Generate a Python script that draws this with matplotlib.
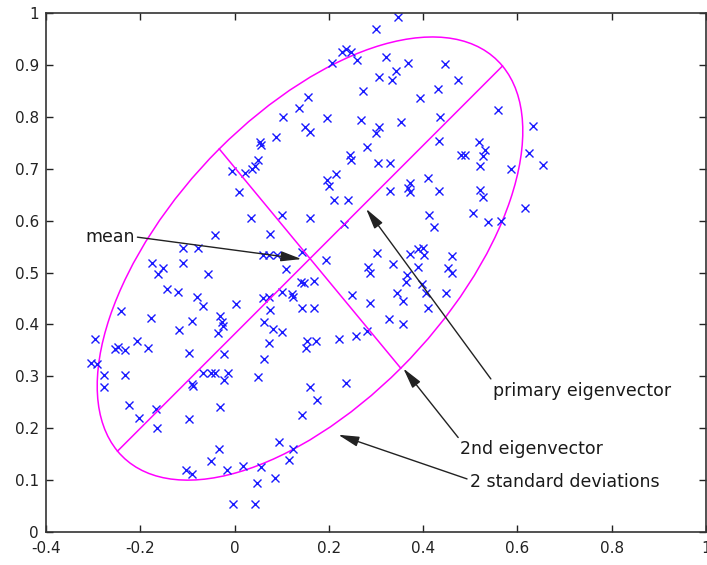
import numpy as np
import matplotlib
matplotlib.use("Agg")
import matplotlib.pyplot as plt
from matplotlib.patches import Ellipse

# scatter sample
xs = [-0.006,
      0.346, 0.299, 0.227, 0.236, 0.248, 0.260, 0.206, 0.322, 0.307, 0.333,
      0.342, 0.272, 0.156, 0.137, 0.102, 0.197, 0.269, 0.149, 0.160, 0.307,
      0.300, 0.088, 0.054, 0.057, 0.280, 0.245, 0.246, 0.050, 0.043, 0.036,
      0.022, 0.305, 0.329, 0.195, 0.215, 0.353,
      0.368, 0.446, 0.474, 0.432, 0.393, 0.435, 0.559, 0.632, 0.434, 0.519,
      0.531, 0.481, 0.488, 0.527, 0.625, 0.654, 0.520, 0.587, 0.411, 0.372,
      0.009, -0.042, -0.110, -0.077, -0.109, -0.176, -0.152, -0.162, -0.057, -0.144,
      -0.119, -0.080, -0.066, 0.004, -0.241, -0.178, -0.091, -0.117, -0.031, -0.027,
      -0.025, -0.035, -0.296, -0.247, -0.254, -0.232, -0.208, -0.183, -0.096, -0.022,
      0.201, 0.211, 0.241, 0.329, 0.034, 0.100, 0.161, 0.232, 0.075, 0.061,
      0.074, 0.089, 0.142, 0.194, 0.303, 0.335, 0.283, 0.287, 0.109, 0.141,
      0.147, 0.168, 0.100, 0.121, 0.124, 0.061, 0.074, 0.250, 0.344, 0.075,
      0.142, 0.168, 0.287, 0.328, 0.062, 0.082, 0.100, 0.280, 0.257, 0.222,
      0.074, 0.153, 0.173, 0.151, 0.063,
      0.368, 0.372, 0.434, 0.520, 0.527, 0.616, 0.413, 0.506, 0.538, 0.566,
      0.423, 0.372, 0.389, 0.400, 0.402, 0.462, 0.389, 0.453, 0.462, 0.365,
      0.363, 0.397, 0.407, 0.448, 0.358, 0.411, 0.358,
      -0.305, -0.292, -0.278, -0.278, -0.232, -0.225, -0.202, -0.167, -0.165, -0.096,
      -0.091, -0.088, -0.066, -0.049, -0.042, -0.013, -0.022, -0.031, -0.032, -0.049,
      -0.017, -0.102, -0.091, -0.004,
      0.050, 0.160, 0.175, 0.236, 0.142, 0.095, 0.123, 0.116, 0.018, 0.057,
      0.086, 0.048, 0.043]
ys = [0.696,
      0.994, 0.969, 0.926, 0.931, 0.926, 0.911, 0.905, 0.916, 0.878, 0.871,
      0.889, 0.851, 0.838, 0.817, 0.801, 0.798, 0.794, 0.781, 0.772, 0.780,
      0.770, 0.761, 0.751, 0.746, 0.743, 0.727, 0.718, 0.718, 0.706, 0.699,
      0.693, 0.711, 0.711, 0.679, 0.690, 0.791,
      0.905, 0.902, 0.872, 0.855, 0.837, 0.801, 0.814, 0.783, 0.754, 0.751,
      0.736, 0.727, 0.727, 0.724, 0.730, 0.708, 0.706, 0.699, 0.682, 0.673,
      0.655, 0.572, 0.547, 0.548, 0.518, 0.518, 0.509, 0.497, 0.497, 0.468,
      0.463, 0.453, 0.436, 0.439, 0.426, 0.412, 0.407, 0.389, 0.417, 0.405,
      0.396, 0.383, 0.372, 0.357, 0.352, 0.351, 0.368, 0.355, 0.344, 0.342,
      0.667, 0.640, 0.640, 0.657, 0.605, 0.612, 0.605, 0.593, 0.574, 0.533,
      0.533, 0.533, 0.540, 0.524, 0.538, 0.516, 0.511, 0.499, 0.506, 0.482,
      0.479, 0.484, 0.463, 0.458, 0.453, 0.450, 0.453, 0.457, 0.460, 0.428,
      0.432, 0.432, 0.441, 0.410, 0.404, 0.391, 0.385, 0.387, 0.378, 0.372,
      0.365, 0.367, 0.368, 0.354, 0.333,
      0.663, 0.655, 0.657, 0.659, 0.646, 0.625, 0.612, 0.614, 0.598, 0.599,
      0.587, 0.535, 0.545, 0.548, 0.534, 0.531, 0.511, 0.508, 0.500, 0.495,
      0.482, 0.477, 0.460, 0.460, 0.445, 0.431, 0.400,
      0.325, 0.324, 0.302, 0.280, 0.302, 0.244, 0.220, 0.236, 0.201, 0.217,
      0.285, 0.281, 0.306, 0.306, 0.306, 0.307, 0.293, 0.241, 0.159, 0.137,
      0.120, 0.119, 0.111, 0.053,
      0.299, 0.280, 0.255, 0.287, 0.225, 0.174, 0.159, 0.138, 0.127, 0.125,
      0.103, 0.093, 0.053]

# fitted gaussian (mean, principal direction, std along each eigenvector)
mean = [0.160, 0.527]
angle_deg = 42.3
stds = [0.276, 0.143]
n_std = 2

# annotations: label, text anchor, arrow tip, arrow start on text box
labels = ["mean", "primary eigenvector", "2nd eigenvector", "2 standard deviations"]
text_pos = [(-0.317, 0.569), (0.548, 0.272), (0.479, 0.159), (0.499, 0.0965)]
tip_pos = [(0.142, 0.526), (0.279, 0.623), (0.358, 0.315), (0.220, 0.187)]
relpos = [(1.0, 0.5), (0.0, 1.0), (0.0, 1.0), (0.0, 0.6)]

xticks = [-0.4, -0.2, 0, 0.2, 0.4, 0.6, 0.8, 1]
yticks = [0, 0.1, 0.2, 0.3, 0.4, 0.5, 0.6, 0.7, 0.8, 0.9, 1]

plt.rcParams["font.family"] = ["DejaVu Sans"]

fig = plt.figure(figsize=(7.07, 5.65), dpi=100)
ax = fig.add_axes([46 / 707, 1 - 531.7 / 565, 660 / 707, 518.3 / 565])

ax.plot(xs, ys, "x", color="#1a1aff", markersize=5.5, mew=1.0, clip_on=False)

th = np.deg2rad(angle_deg)
v1 = np.array([np.cos(th), np.sin(th)])
v2 = np.array([-np.sin(th), np.cos(th)])
m = np.array(mean)
magenta = "#ff00ff"
for v, s in [(v1, stds[0]), (v2, stds[1])]:
    a = m - n_std * s * v
    b = m + n_std * s * v
    ax.plot([a[0], b[0]], [a[1], b[1]], color=magenta, lw=1.1)
ax.add_patch(Ellipse(mean, 2 * n_std * stds[0], 2 * n_std * stds[1], angle=angle_deg,
                     fill=False, edgecolor=magenta, lw=1.1))

for lab, tp, xy, rp in zip(labels, text_pos, tip_pos, relpos):
    ax.annotate(lab, xy=xy, xytext=tp, ha="left", va="center", fontsize=12.5,
                color="#1a1a1a",
                arrowprops=dict(arrowstyle="-|>,head_length=0.9,head_width=0.22",
                                color="#222222", lw=1.0, mutation_scale=14,
                                shrinkA=0, shrinkB=0, relpos=rp))

ax.set_xlim(-0.4, 1)
ax.set_ylim(0, 1)
ax.set_xticks(xticks)
ax.set_xticklabels([f"{t:g}" for t in xticks])
ax.set_yticks(yticks)
ax.set_yticklabels([f"{t:g}" for t in yticks])
ax.tick_params(direction="in", length=5, width=1, top=True, right=True,
               labelsize=11, colors="#222222")
ax.tick_params(axis="x", pad=7)
ax.tick_params(axis="y", pad=5)
for sp in ax.spines.values():
    sp.set_linewidth(1.2)
    sp.set_color("#333333")

fig.savefig("out.png", dpi=100)
